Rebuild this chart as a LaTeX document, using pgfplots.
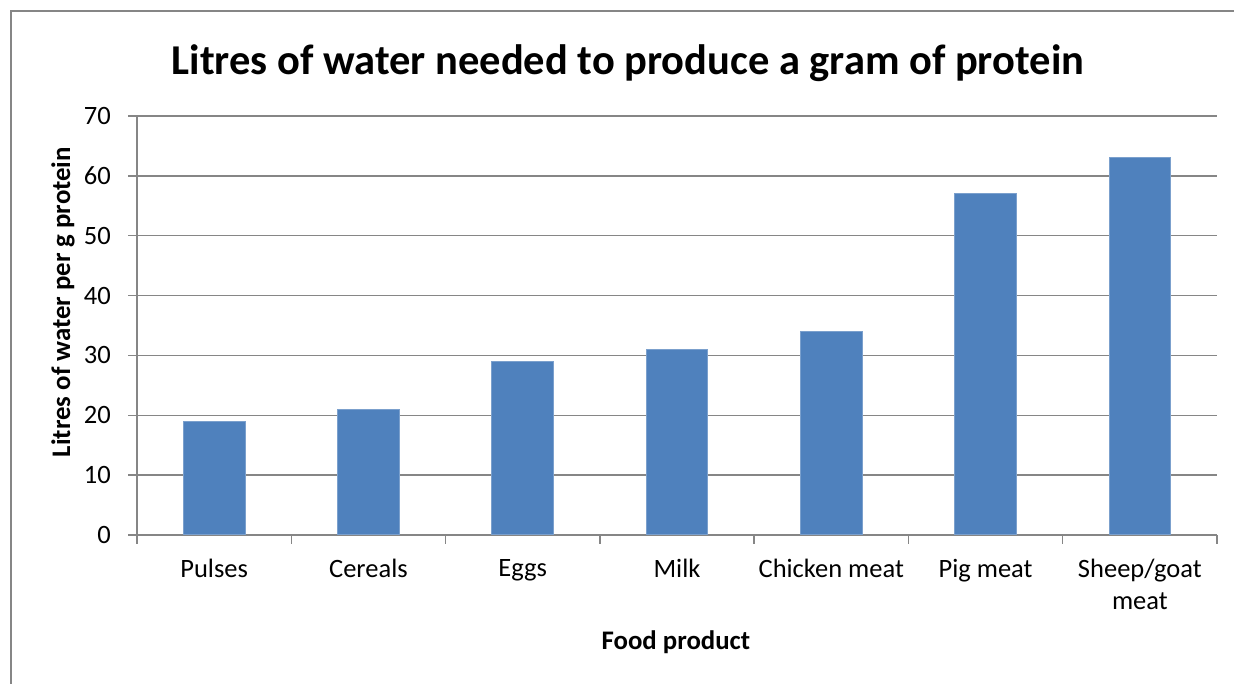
\documentclass[border=0pt]{standalone}
\usepackage{pgfplots}
\pgfplotsset{compat=1.18}
\usepackage{fontspec}
\setmainfont{Carlito}
\definecolor{barblue}{HTML}{4F81BD}
\definecolor{baredge}{HTML}{7BA0CD}
\definecolor{gridgray}{HTML}{868686}
\begin{document}
\begin{tikzpicture}[x=1bp,y=1bp]
\path[use as bounding box] (0,0) rectangle (1234,684);
\fill[gridgray] (10.25,-10) rectangle (11.75,673.75);
\fill[gridgray] (10.25,672.25) rectangle (1260,673.75);
\node[font=\bfseries\fontsize{42.5bp}{50bp}\selectfont] at (628,621) {Litres of water needed to produce a gram of protein};
\begin{axis}[at={(137bp,149bp)}, anchor=south west, scale only axis,
  width=1080bp, height=419bp,
  ymin=0, ymax=70, ytick={0,10,...,70},
  xmin=-0.5, xmax=6.5,
  xtick={-0.5,0.5,...,6.5}, x tick label as interval,
  xticklabels={Pulses,Cereals,Eggs,Milk,Chicken meat,Pig meat,{Sheep/goat\\meat}},
  axis x line*=bottom, axis y line*=left,
  axis line style={gridgray, line width=1.5bp, -},
  tick align=outside, major tick length=9bp,
  tick style={gridgray, line width=1.5bp},
  ymajorgrids, grid style={gridgray, line width=1.5bp},
  /pgf/number format/assume math mode=true,
  yticklabel style={font=\fontsize{26.5bp}{30bp}\selectfont, anchor=east, inner sep=0pt, xshift=-17bp},
  xticklabel style={font=\fontsize{26.5bp}{32bp}\selectfont, align=center, anchor=north, inner sep=0pt, yshift=-15bp},
  xlabel={Food product},
  xlabel style={font=\bfseries\fontsize{26.8bp}{30bp}\selectfont, at={(axis description cs:0.499,-0.255)}, anchor=center},
  ylabel={Litres of water per g protein},
  ylabel style={font=\bfseries\fontsize{26.8bp}{30bp}\selectfont, at={(axis description cs:-0.0685,0.556)}, anchor=center},
]
\addplot[ybar, bar width=0.4, fill=barblue, draw=baredge, line width=1bp]
  coordinates {(0,19) (1,21) (2,29) (3,31) (4,34) (5,57) (6,63)};
\end{axis}
\end{tikzpicture}
\end{document}
